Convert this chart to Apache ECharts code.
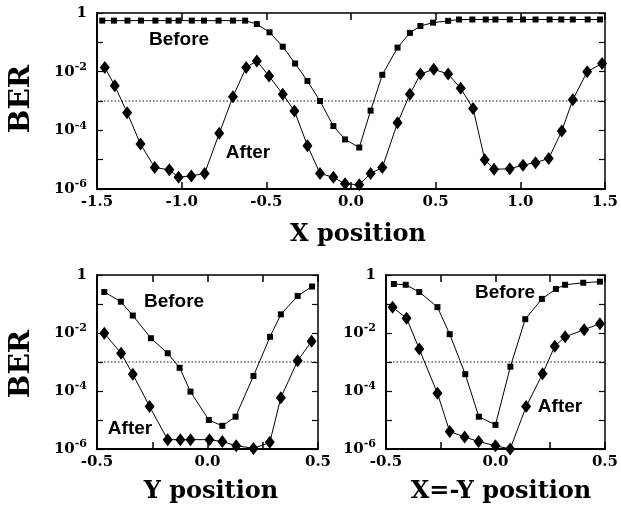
<!DOCTYPE html>
<html><head><meta charset="utf-8">
<script src="https://cdn.jsdelivr.net/npm/echarts@6/dist/echarts.min.js"></script>
<style>html,body{margin:0;padding:0;background:#fff}#c{width:621px;height:510px}</style>
</head><body><div id="c"></div>
<script>
// ---- Top panel: X position ----
const topBeforeX = [-1.469,-1.40,-1.32,-1.24,-1.155,-1.077,-1.018,-0.94,-0.868,-0.782,-0.697,-0.625,-0.556,-0.481,-0.403,-0.33,-0.257,-0.183,-0.104,-0.035,0.049,0.116,0.185,0.275,0.348,0.41,0.485,0.574,0.638,0.717,0.796,0.853,0.938,1.016,1.09,1.173,1.242,1.31,1.398,1.471];
const topBeforeBER = [0.55,0.55,0.55,0.55,0.55,0.55,0.55,0.55,0.55,0.55,0.55,0.55,0.42,0.22,0.071,0.019,4.8e-3,1.0e-3,1.4e-4,4.9e-5,2.6e-5,4.7e-4,7.8e-3,0.066,0.21,0.36,0.47,0.54,0.60,0.60,0.60,0.60,0.60,0.60,0.60,0.60,0.60,0.60,0.60,0.60];
const topAfterX = [-1.454,-1.395,-1.322,-1.243,-1.159,-1.073,-1.018,-0.943,-0.864,-0.778,-0.697,-0.619,-0.556,-0.484,-0.403,-0.334,-0.257,-0.183,-0.104,-0.035,0.049,0.116,0.185,0.275,0.348,0.41,0.489,0.574,0.648,0.721,0.79,0.845,0.938,1.016,1.09,1.168,1.245,1.31,1.395,1.483];
const topAfterBER = [1.4e-2,3.3e-3,4.0e-4,3.4e-5,5.4e-6,4.5e-6,2.5e-6,2.8e-6,3.4e-6,7.9e-5,1.4e-3,1.4e-2,2.3e-2,7.1e-3,1.7e-3,4.6e-4,3.0e-5,3.4e-6,2.5e-6,1.5e-6,1.4e-6,3.4e-6,5.4e-6,1.8e-4,1.7e-3,8.3e-3,1.2e-2,8.3e-3,2.7e-3,5.6e-4,1.0e-5,4.7e-6,4.9e-6,6.5e-6,7.9e-6,1.1e-5,9.5e-5,1.1e-3,1.0e-2,1.9e-2];
// ---- Bottom-left: Y position ----
const yBeforeX = [-0.467,-0.392,-0.338,-0.256,-0.18,-0.126,-0.077,0.006,0.067,0.127,0.208,0.283,0.332,0.408,0.473];
const yBeforeBER = [0.26,0.12,0.040,6.6e-3,2.0e-3,6.3e-4,9.5e-5,1.0e-5,6.3e-6,1.3e-5,3.3e-4,7.4e-3,0.044,0.19,0.40];
const yAfterX = [-0.467,-0.391,-0.338,-0.262,-0.18,-0.123,-0.077,0.009,0.067,0.13,0.208,0.282,0.332,0.408,0.471];
const yAfterBER = [9.8e-3,2.0e-3,3.8e-4,2.9e-5,2.1e-6,2.1e-6,2.1e-6,2.1e-6,1.8e-6,1.3e-6,1.05e-6,1.7e-6,5.9e-5,1.1e-3,5.2e-3];
// ---- Bottom-right: X=-Y position ----
const dBeforeX = [-0.464,-0.41,-0.348,-0.265,-0.209,-0.138,-0.076,0.0,0.068,0.136,0.212,0.276,0.318,0.401,0.477];
const dBeforeBER = [0.49,0.46,0.26,0.078,9.1e-3,3.8e-4,1.3e-5,6.8e-6,6.9e-4,0.030,0.15,0.33,0.46,0.54,0.59];
const dAfterX = [-0.47,-0.406,-0.348,-0.265,-0.209,-0.141,-0.077,0.0,0.067,0.14,0.215,0.271,0.318,0.405,0.477];
const dAfterBER = [0.078,0.032,2.8e-3,8.3e-5,4.0e-6,2.6e-6,1.8e-6,1.3e-6,1.0e-6,2.9e-5,3.9e-4,3.5e-3,7.4e-3,0.013,0.021];
const threshold = 1e-3;
const panelTitles = ['X position','Y position','X=-Y position'];
const topRange = [-1.5, 1.5];
const botRange = [-0.5, 0.5];

const SERIF = '"DejaVu Serif"';
const zip = (a,b) => a.map((v,i)=>[v,b[i]]);

function xLabelFmt(v){
  const t = v*2;
  if (Math.abs(t - Math.round(t)) > 1e-6) return '';
  return (Math.abs(v) < 1e-9 ? 0 : v).toFixed(1);
}
function yLabelFmt(v){
  const e = Math.round(Math.log10(v));
  if (e === 0) return '{b|1}';
  if (e % 2 !== 0) return '';
  return '{b|10}{s|' + e + '}';
}
const yRich = {
  b:{fontFamily:SERIF,fontWeight:'bold',fontSize:15,color:'#000',lineHeight:20},
  s:{fontFamily:SERIF,fontWeight:'bold',fontSize:11,color:'#000',lineHeight:11,verticalAlign:'top'}
};
function xAx(g,range,interval,pos){
  return {type:'value',gridIndex:g,min:range[0],max:range[1],interval,position:pos,
    axisLine:{show:true,onZero:false,lineStyle:{color:'#000',width:pos==='bottom'?2:1.5}},
    axisTick:{show:true,inside:true,length:7,lineStyle:{color:'#000',width:1.5}},
    axisLabel:{show:pos==='bottom',formatter:xLabelFmt,margin:6,fontFamily:SERIF,fontWeight:'bold',fontSize:15,color:'#000'},
    splitLine:{show:false}};
}
function yAx(g,pos){
  return {type:'log',logBase:10,gridIndex:g,min:1e-6,max:1,position:pos,
    axisLine:{show:true,onZero:false,lineStyle:{color:'#000',width:pos==='left'?2:1.5}},
    axisTick:{show:true,inside:true,length:6,lineStyle:{color:'#000',width:1.2}},
    axisLabel:{show:pos==='left',formatter:yLabelFmt,rich:yRich,margin:10},
    splitLine:{show:false},minorTick:{show:false}};
}
function lineSeries(xi,yi,data,symbol,size){
  return {type:'line',xAxisIndex:xi,yAxisIndex:yi,data,symbol,symbolSize:size,
    lineStyle:{color:'#000',width:1},itemStyle:{color:'#000'},animation:false,z:3};
}
function thresholdSeries(xi,yi,range){
  return {type:'line',xAxisIndex:xi,yAxisIndex:yi,data:[[range[0],threshold],[range[1],threshold]],
    symbol:'none',silent:true,lineStyle:{color:'#111',width:1,type:[1.5,2]},animation:false,z:2};
}
const grids = [
  {left:97,top:13,width:509,height:176},
  {left:97,top:275,width:221,height:174},
  {left:386,top:275,width:220,height:174}
];
const xAxes = [
  xAx(0,topRange,0.5,'bottom'), xAx(0,topRange,0.5,'top'),
  xAx(1,botRange,0.25,'bottom'), xAx(1,botRange,0.25,'top'),
  xAx(2,botRange,0.25,'bottom'), xAx(2,botRange,0.25,'top')
];
const yAxes = [
  yAx(0,'left'), yAx(0,'right'),
  yAx(1,'left'), yAx(1,'right'),
  yAx(2,'left'), yAx(2,'right')
];
const SQ = [6,6], DI = [10,13];
const series = [
  thresholdSeries(0,0,topRange),
  thresholdSeries(2,2,botRange),
  thresholdSeries(4,4,botRange),
  lineSeries(0,0,zip(topBeforeX,topBeforeBER),'rect',SQ),
  lineSeries(0,0,zip(topAfterX,topAfterBER),'diamond',DI),
  lineSeries(2,2,zip(yBeforeX,yBeforeBER),'rect',SQ),
  lineSeries(2,2,zip(yAfterX,yAfterBER),'diamond',DI),
  lineSeries(4,4,zip(dBeforeX,dBeforeBER),'rect',SQ),
  lineSeries(4,4,zip(dAfterX,dAfterBER),'diamond',DI)
];
function txt(x,y,text,font,rot){
  return {type:'text',x,y,rotation:rot||0,z:10,
    style:{text,font,fill:'#000',align:'center',verticalAlign:'middle'}};
}
const LBL = 'bold 19px "Liberation Sans"';
const TTL = 'bold 24px ' + SERIF;
const graphic = [
  txt(22,99,'BER','bold 28px '+SERIF,Math.PI/2),
  txt(22,364,'BER','bold 28px '+SERIF,Math.PI/2),
  txt(358,235,panelTitles[0],TTL),
  txt(211,492,panelTitles[1],TTL),
  txt(501,492,panelTitles[2],TTL),
  txt(179,40,'Before',LBL), txt(248,153,'After',LBL),
  txt(174,302,'Before',LBL), txt(130,429,'After',LBL),
  txt(505,293,'Before',LBL), txt(560,407,'After',LBL)
];
const chart = echarts.init(document.getElementById('c'),null,{renderer:'canvas'});
chart.setOption({animation:false,backgroundColor:'#fff',grid:grids,xAxis:xAxes,yAxis:yAxes,series,graphic});
</script></body></html>
